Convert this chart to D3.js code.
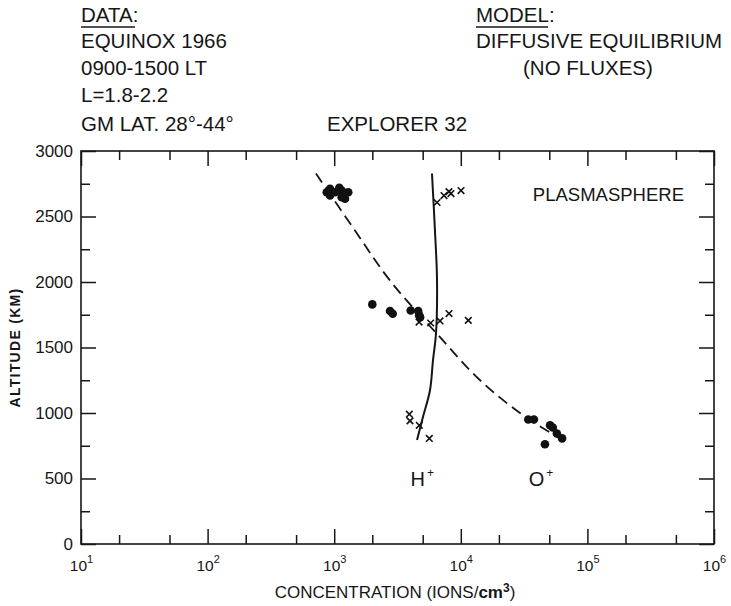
<!DOCTYPE html>
<meta charset="utf-8">
<script src="https://d3js.org/d3.v7.min.js"></script>
<style>
body { margin: 0; background: #fff; }
text { font-family: "Liberation Sans", Arial, sans-serif; fill: #161616; }
</style>
<div id="chart"></div>
<script>

// O+ measurements (dots): concentration (ions/cm3), altitude (km)
var oConc = [873, 927, 1014, 1097, 1146, 1217, 1291, 1217, 1146, 927,
             2000, 2760, 2900, 4020, 4610, 4690, 4770,
             34100, 37800, 50700, 53300, 57400, 63100, 46200];
var oAlt  = [2685, 2711, 2685, 2719, 2698, 2673, 2685, 2635, 2647, 2660,
             1829, 1778, 1758, 1783, 1778, 1745, 1730,
             950, 950, 907, 889, 844, 806, 762];

// H+ measurements (crosses)
var hConc = [6490, 7370, 8060, 8360, 10040,
             4680, 5780, 6850, 8070, 11460,
             3920, 3970, 4700, 5640];
var hAlt  = [2607, 2660, 2690, 2675, 2698,
             1694, 1687, 1703, 1759, 1707,
             991, 940, 906, 806];

// diffusive equilibrium model curves
var oModelConc = [718, 1459, 2754, 6460, 14200, 31000, 62000];
var oModelAlt  = [2828, 2393, 2012, 1606, 1250, 983, 800];
var hModelConc = [5920, 6250, 6490, 6370, 6030, 5710, 5020, 4510];
var hModelAlt  = [2828, 2393, 2012, 1608, 1402, 1174, 968, 793];

var xMajor = [10, 100, 1000, 10000, 100000, 1000000];
var xMinor = [20, 50, 200, 500, 2000, 5000, 20000, 50000, 200000, 500000];
var yMajor = [0, 500, 1000, 1500, 2000, 2500, 3000];
var yMinor = [250, 750, 1250, 1750, 2250, 2750];

var margin = {top: 151, right: 17, bottom: 62, left: 81},
    width = 731 - margin.left - margin.right,
    height = 606 - margin.top - margin.bottom;

var svgRoot = d3.select("#chart")
  .append("svg")
    .attr("width", 731)
    .attr("height", 606);

var svg = svgRoot.append("g")
    .attr("transform", "translate(" + margin.left + "," + margin.top + ")");

var x = d3.scaleLog().domain([10, 1000000]).range([0, width]);
var y = d3.scaleLinear().domain([0, 3000]).range([height, 0]);

// frame
svg.append("rect")
  .attr("width", width).attr("height", height)
  .attr("fill", "none").attr("stroke", "#161616").attr("stroke-width", 1.6);

function styleAxis(g) {
  g.select(".domain").remove();
  g.selectAll("line").attr("stroke", "#161616").attr("stroke-width", 1.5);
}

// inward ticks on all four sides
svg.append("g").attr("transform", "translate(0," + height + ")")
  .call(d3.axisBottom(x).tickValues(xMajor).tickSize(-15).tickPadding(16).tickFormat(""))
  .call(styleAxis)
  .selectAll(".tick text")
    .attr("font-size", 15.5)
    .each(function(d) {
      var t = d3.select(this);
      t.text("10");
      t.append("tspan").attr("dy", -8).attr("font-size", 11).text(Math.round(Math.log10(d)));
    });
svg.append("g").attr("transform", "translate(0," + height + ")")
  .call(d3.axisBottom(x).tickValues(xMinor).tickSize(-9).tickFormat(""))
  .call(styleAxis);
svg.append("g")
  .call(d3.axisTop(x).tickValues(xMajor).tickSize(-15).tickFormat(""))
  .call(styleAxis);
svg.append("g")
  .call(d3.axisTop(x).tickValues(xMinor).tickSize(-9).tickFormat(""))
  .call(styleAxis);

svg.append("g")
  .call(d3.axisLeft(y).tickValues(yMajor).tickSize(-15).tickPadding(8).tickFormat(d3.format("d")))
  .call(styleAxis)
  .selectAll(".tick text").attr("font-size", 17).attr("fill", "#161616");
svg.append("g")
  .call(d3.axisLeft(y).tickValues(yMinor).tickSize(-9).tickFormat(""))
  .call(styleAxis);
svg.append("g").attr("transform", "translate(" + width + ",0)")
  .call(d3.axisRight(y).tickValues(yMajor).tickSize(-15).tickFormat(""))
  .call(styleAxis);
svg.append("g").attr("transform", "translate(" + width + ",0)")
  .call(d3.axisRight(y).tickValues(yMinor).tickSize(-9).tickFormat(""))
  .call(styleAxis);

svg.selectAll(".tick text").attr("font-family", "Liberation Sans, Arial, sans-serif");

// model curves
var line = d3.line()
  .x(function(d) { return x(d[0]); })
  .y(function(d) { return y(d[1]); })
  .curve(d3.curveCatmullRom);

svg.append("path")
  .datum(d3.zip(oModelConc, oModelAlt))
  .attr("d", line)
  .attr("fill", "none").attr("stroke", "#161616")
  .attr("stroke-width", 1.8).attr("stroke-dasharray", "11,6");

svg.append("path")
  .datum(d3.zip(hModelConc, hModelAlt))
  .attr("d", line)
  .attr("fill", "none").attr("stroke", "#161616")
  .attr("stroke-width", 2);

// O+ dots
svg.append("g")
  .selectAll("circle")
  .data(d3.zip(oConc, oAlt))
  .enter()
  .append("circle")
    .attr("cx", function(d) { return x(d[0]); })
    .attr("cy", function(d) { return y(d[1]); })
    .attr("r", 4.3)
    .attr("fill", "#111");

// H+ crosses
var cross = d3.symbol().type(d3.symbolX).size(30);
svg.append("g")
  .selectAll("path")
  .data(d3.zip(hConc, hAlt))
  .enter()
  .append("path")
    .attr("transform", function(d) { return "translate(" + x(d[0]) + "," + y(d[1]) + ")"; })
    .attr("d", cross)
    .attr("fill", "none")
    .attr("stroke", "#111")
    .attr("stroke-width", 1.6);

// labels inside the plot
svg.append("text")
  .attr("x", width - 30).attr("y", y(2620))
  .attr("text-anchor", "end").attr("font-size", 18.5)
  .text("PLASMASPHERE");

var ionLabels = [["H", 4010], ["O", 34400]];
ionLabels.forEach(function(l) {
  var t = svg.append("text")
    .attr("x", x(l[1])).attr("y", y(440))
    .attr("font-size", 20)
    .text(l[0]);
  t.append("tspan").attr("dy", -9).attr("dx", 2).attr("font-size", 12).text("+");
});

// axis titles
svgRoot.append("text")
  .attr("transform", "translate(20," + (margin.top + height / 2) + ") rotate(-90)")
  .attr("text-anchor", "middle")
  .attr("font-size", 14).attr("font-weight", "bold").attr("letter-spacing", 1.3)
  .text("ALTITUDE (KM)");

var xt = svgRoot.append("text")
  .attr("x", 395).attr("y", 598)
  .attr("text-anchor", "middle")
  .attr("font-size", 17)
  .text("CONCENTRATION (IONS/");
xt.append("tspan").attr("font-weight", "bold").text("cm");
xt.append("tspan").attr("font-weight", "bold").attr("dy", -6).attr("font-size", 12).text("3");
xt.append("tspan").attr("dy", 6).text(")");

// header notes
var leftNotes = ["EQUINOX 1966", "0900-1500 LT", "L=1.8-2.2", "GM LAT. 28°-44°"];
var leftY = [48, 75, 102, 131];
var rightNotes = ["DIFFUSIVE EQUILIBRIUM", "(NO FLUXES)"];
var rightX = [476, 523];

function header(tx, ty, s) {
  return svgRoot.append("text").attr("x", tx).attr("y", ty)
    .attr("font-size", 20.5).text(s);
}
header(81, 22, "DATA:");
svgRoot.append("line").attr("x1", 81).attr("x2", 135).attr("y1", 27).attr("y2", 27)
  .attr("stroke", "#161616").attr("stroke-width", 1.4);
leftNotes.forEach(function(s, i) { header(81, leftY[i], s); });
header(327, 131, "EXPLORER 32");

header(476, 22, "MODEL:");
svgRoot.append("line").attr("x1", 476).attr("x2", 548).attr("y1", 27).attr("y2", 27)
  .attr("stroke", "#161616").attr("stroke-width", 1.4);
rightNotes.forEach(function(s, i) { header(rightX[i], 48 + 27 * i, s); });

</script>
